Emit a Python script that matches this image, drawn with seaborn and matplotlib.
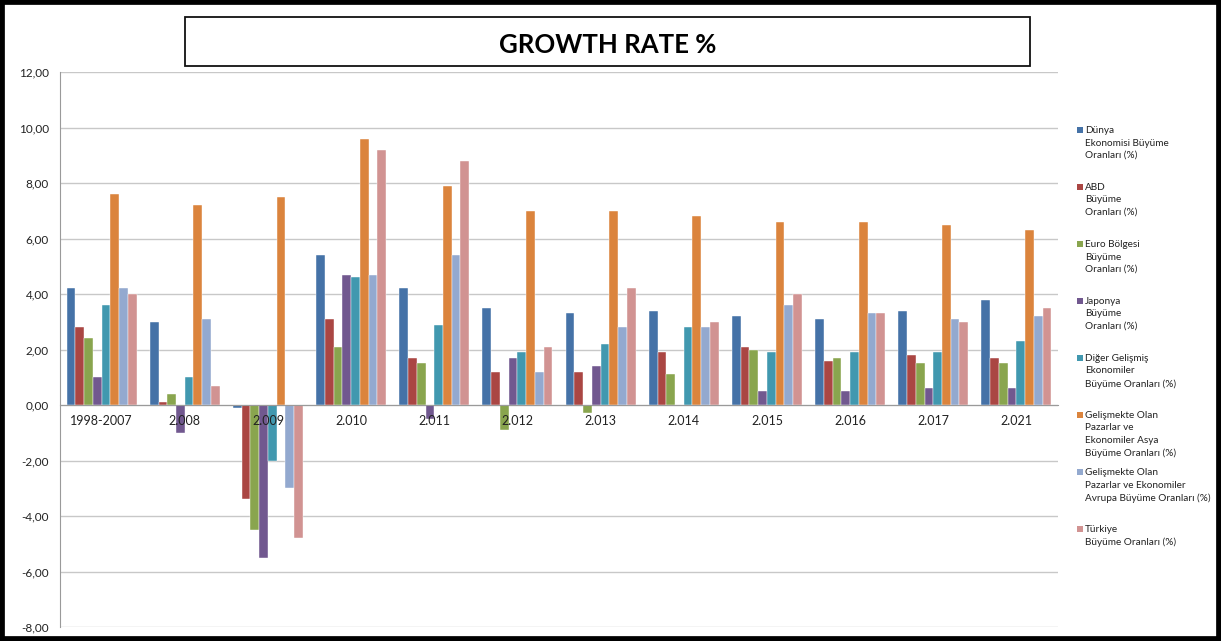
import matplotlib
matplotlib.use("Agg")
import matplotlib.pyplot as plt
from matplotlib.patches import Rectangle
from matplotlib.ticker import FuncFormatter, MultipleLocator
from matplotlib.transforms import offset_copy
import seaborn as sns
import pandas as pd

categories = ["1998-2007", "2.008", "2.009", "2.010", "2.011", "2.012",
              "2.013", "2.014", "2.015", "2.016", "2.017", "2.021"]

series_names = [
    "Dünya\nEkonomisi Büyüme\nOranları (%)",
    "ABD\nBüyüme\nOranları (%)",
    "Euro Bölgesi\nBüyüme\nOranları (%)",
    "Japonya\nBüyüme\nOranları (%)",
    "Diğer Gelişmiş\nEkonomiler\nBüyüme Oranları (%)",
    "Gelişmekte Olan\nPazarlar ve\nEkonomiler Asya\nBüyüme Oranları (%)",
    "Gelişmekte Olan\nPazarlar ve Ekonomiler\nAvrupa Büyüme Oranları (%)",
    "Türkiye\nBüyüme Oranları (%)",
]

dunya   = [4.2, 3.0, -0.1, 5.4, 4.2, 3.5, 3.3, 3.4, 3.2, 3.1, 3.4, 3.8]
abd     = [2.8, 0.1, -3.4, 3.1, 1.7, 1.2, 1.2, 1.9, 2.1, 1.6, 1.8, 1.7]
euro    = [2.4, 0.4, -4.5, 2.1, 1.5, -0.9, -0.3, 1.1, 2.0, 1.7, 1.5, 1.5]
japonya = [1.0, -1.0, -5.5, 4.7, -0.5, 1.7, 1.4, 0.0, 0.5, 0.5, 0.6, 0.6]
diger   = [3.6, 1.0, -2.0, 4.6, 2.9, 1.9, 2.2, 2.8, 1.9, 1.9, 1.9, 2.3]
asya    = [7.6, 7.2, 7.5, 9.6, 7.9, 7.0, 7.0, 6.8, 6.6, 6.6, 6.5, 6.3]
avrupa  = [4.2, 3.1, -3.0, 4.7, 5.4, 1.2, 2.8, 2.8, 3.6, 3.3, 3.1, 3.2]
turkiye = [4.0, 0.7, -4.8, 9.2, 8.8, 2.1, 4.2, 3.0, 4.0, 3.3, 3.0, 3.5]

all_series = [dunya, abd, euro, japonya, diger, asya, avrupa, turkiye]

colors = ["#4572A7", "#AA4643", "#89A54E", "#71588F",
          "#4198AF", "#DB843D", "#93A9CF", "#D19392"]

rows = []
for name, vals in zip(series_names, all_series):
    for c, v in zip(categories, vals):
        rows.append({"cat": c, "series": name, "value": v})
df = pd.DataFrame(rows)

sns.set_style("white")
plt.rcParams["font.family"] = ["Lato", "DejaVu Sans"]

W, H = 1221, 641
fig = plt.figure(figsize=(W / 100, H / 100), dpi=100)
ax = fig.add_axes([60 / W, 1 - 627 / H, (1058 - 60) / W, (627 - 72) / H])

sns.barplot(data=df, x="cat", y="value", hue="series", order=categories,
            hue_order=series_names, palette=colors, width=0.84,
            edgecolor="white", linewidth=0.3, saturation=1, ax=ax, legend=False)

ax.set_ylim(-8, 12)
ax.set_xlim(-0.5, len(categories) - 0.5)
ax.yaxis.set_major_locator(MultipleLocator(2))
ax.yaxis.set_major_formatter(FuncFormatter(lambda v, p: f"{v:.2f}".replace(".", ",")))
ax.grid(axis="y", color="#C8C8C8", linewidth=1.0)
ax.set_axisbelow(True)
ax.set_xlabel("")
ax.set_ylabel("")

for s in ["top", "right"]:
    ax.spines[s].set_visible(False)
ax.spines["left"].set_color("#9A9A9A")
ax.spines["bottom"].set_position(("data", 0))
ax.spines["bottom"].set_color("#9A9A9A")
ax.set_xticks(range(len(categories)))
ax.set_xticklabels([])
ax.tick_params(axis="x", length=0)
ax.tick_params(axis="y", length=0, pad=8, labelsize=8.5, colors="#222222")

# category labels drawn over the bars, just below the zero line
lab_tr = offset_copy(ax.transData, fig=fig, x=0, y=-10, units="dots")
for i, c in enumerate(categories):
    ax.text(i, 0, c, transform=lab_tr, ha="center", va="top",
            fontsize=9, color="#222222", zorder=5)

# legend (entries evenly spaced like the spreadsheet legend)
leg_x = 1077
leg_y0 = 130
leg_step = 57
for i, (name, col) in enumerate(zip(series_names, colors)):
    yc = leg_y0 + leg_step * i
    fig.patches.append(Rectangle((leg_x / W, 1 - (yc + 3) / H), 6 / W, 6 / H,
                                 transform=fig.transFigure, facecolor=col,
                                 edgecolor="none"))
    fig.text((leg_x + 8) / W, 1 - (yc - 4) / H, name, ha="left", va="top",
             fontsize=7.2, linespacing=1.5, color="#222222")

# title box
fig.patches.append(Rectangle((185 / W, 1 - 66 / H), (1030 - 185) / W, 49 / H,
                             transform=fig.transFigure, fill=False,
                             edgecolor="#111111", linewidth=1.3))
fig.text((185 + 1030) / 2 / W, 1 - 45 / H, "GROWTH RATE %",
         ha="center", va="center", fontsize=18.5, fontweight="bold", color="black")

# outer frame
fig.patches.append(Rectangle((0, 0), 1, 1, transform=fig.transFigure, fill=False,
                             edgecolor="black", linewidth=7, clip_on=False))

fig.savefig("out.png", dpi=100)
